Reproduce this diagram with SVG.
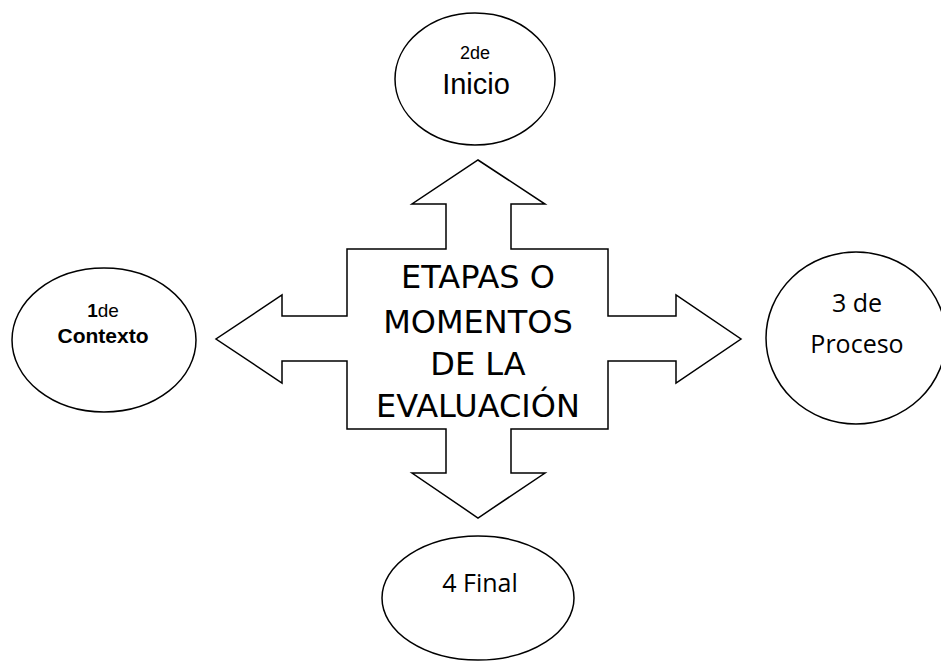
<svg xmlns="http://www.w3.org/2000/svg" width="941" height="661" viewBox="0 0 941 661">
<style>
.shape{fill:#fff;stroke:#000;stroke-width:1.5}
.sans{font-family:"Liberation Sans",Arial,sans-serif;fill:#000}
.cal{font-family:"Open Sans","Liberation Sans",sans-serif;fill:#000}
.comic{font-family:"DejaVu Sans","Liberation Sans",sans-serif;fill:#000}
</style>
<rect width="941" height="661" fill="#fff"/>
<g id="connectors"></g>
<g id="center">
<path class="shape" d="M478,160 L545,204 L511,204 L511,249 L608,249 L608,316 L676,316 L676,295 L741,339 L676,383 L676,361 L608,361 L608,429 L511,429 L511,473 L545,473 L478,518 L412,473 L446,473 L446,429 L347,429 L347,361 L282,361 L282,383 L216,339 L282,295 L282,316 L347,316 L347,249 L446,249 L446,204 L412,204 Z"/>
<g class="comic" font-size="32" text-anchor="middle">
<text x="478" y="288">ETAPAS O</text>
<text x="478" y="333">MOMENTOS</text>
<text x="478" y="375">DE LA</text>
<text x="478" y="417">EVALUACIÓN</text>
</g>
</g>
<g id="node1">
<ellipse class="shape" cx="104" cy="340" rx="92" ry="72"/>
<text class="sans" x="103" y="317" font-size="19" text-anchor="middle"><tspan font-weight="bold">1</tspan>de</text>
<text class="sans" x="103" y="343" font-size="21" font-weight="bold" text-anchor="middle">Contexto</text>
</g>
<g id="node2">
<ellipse class="shape" cx="475" cy="79" rx="80" ry="66"/>
<text class="sans" x="475" y="59" font-size="18" text-anchor="middle">2de</text>
<text class="sans" x="476" y="94" font-size="29" text-anchor="middle">Inicio</text>
</g>
<g id="node3">
<ellipse class="shape" cx="856" cy="338" rx="90" ry="86"/>
<text class="cal" x="857" y="312" font-size="25" text-anchor="middle">3 de</text>
<text class="cal" x="857" y="353" font-size="25" text-anchor="middle">Proceso</text>
</g>
<g id="node4">
<ellipse class="shape" cx="478" cy="598" rx="96" ry="62"/>
<text class="cal" x="480" y="592" font-size="25" text-anchor="middle">4 Final</text>
</g>
</svg>
